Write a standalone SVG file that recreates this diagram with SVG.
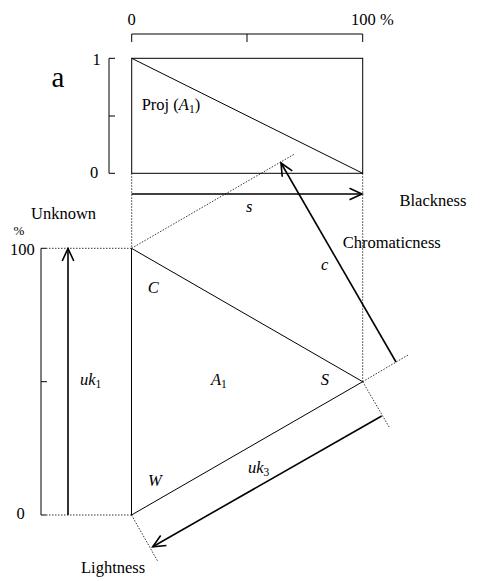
<svg xmlns="http://www.w3.org/2000/svg" width="495" height="581" viewBox="0 0 495 581" font-family="Liberation Serif, Times New Roman, serif" font-size="16.5">
<style>
text{font-family:'Liberation Serif','Times New Roman',serif;font-size:16.5px;fill:#000}
.i{font-style:italic}
.sub{font-size:11.5px;font-style:normal}
.thin{stroke:#000;stroke-width:1;fill:none}
.bold{stroke:#000;stroke-width:1.6;fill:none}
.dot{stroke:#000;stroke-width:0.8;stroke-dasharray:1.5 1.5;fill:none}
</style>
<defs>
<marker id="ah" markerUnits="userSpaceOnUse" markerWidth="16" markerHeight="14" refX="14" refY="7" orient="auto">
<path d="M1.5,1.2 L14,7 L1.5,12.8" fill="none" stroke="#000" stroke-width="1.6"/>
</marker>
</defs>
<rect width="495" height="581" fill="#fff"/>

<g id="scales">
<path class="thin" d="M131.7,42 V34 H362.7 V42 M247,34 V42"/>
<path class="thin" d="M115,58.3 H109 V173.3 H115 M109,116 H115"/>
<path class="thin" d="M46,248.3 H41 V515 H46 M41,381.7 H47"/>
<path class="dot" d="M46,248.3 H131.5 M46,515 H131.5"/>
<text x="127.5" y="25">0</text>
<text x="351" y="25">100 %</text>
<text x="92.5" y="65">1</text>
<text x="90" y="178.3">0</text>
<text x="10" y="255">100</text>
<text x="13.5" y="235" style="font-size:13px">%</text>
<text x="16.5" y="519.3">0</text>
</g>

<g id="label-a"><text x="51.5" y="87" style="font-size:29px">a</text></g>

<g id="proj">
<rect class="thin" x="131.7" y="58.3" width="231" height="115"/>
<path class="thin" d="M131.7,58.3 L362.7,173.3"/>
<text x="141.7" y="110">Proj (<tspan class="i">A</tspan><tspan class="sub" dy="3">1</tspan><tspan dy="-3">)</tspan></text>
</g>

<g id="triangle">
<path class="thin" d="M131.5,248.3 L131.5,515 L362.7,381.7 Z"/>
<text class="i" x="147.7" y="292.7">C</text>
<text class="i" x="148" y="486">W</text>
<text class="i" x="320.7" y="385">S</text>
<text class="i" x="211" y="385">A<tspan class="sub" dy="3">1</tspan></text>
</g>

<g id="guides">
<path class="dot" d="M131.7,173.3 V248.3 M362.7,173.3 V381.7"/>
<path class="dot" d="M131.5,248.3 L294,154.3"/>
<path class="dot" d="M362.7,381.7 L409,354.5 M362.7,381.7 L390,428.5"/>
<path class="dot" d="M131.5,515 L158,561.7"/>
</g>

<g id="connectors">
<line class="bold" x1="131.7" y1="194" x2="362" y2="194" marker-end="url(#ah)"/>
<line class="bold" x1="396" y1="362" x2="281" y2="163" marker-end="url(#ah)"/>
<line class="bold" x1="68" y1="515" x2="68" y2="248.5" marker-end="url(#ah)"/>
<line class="bold" x1="381.7" y1="416" x2="152.7" y2="546.7" marker-end="url(#ah)"/>
</g>

<g id="labels">
<text class="i" x="246" y="211.7">s</text>
<text class="i" x="321" y="270">c</text>
<text class="i" x="80" y="385">uk<tspan class="sub" dy="3">1</tspan></text>
<text class="i" x="248" y="473">uk<tspan class="sub" dy="3">3</tspan></text>
<text x="399.5" y="206">Blackness</text>
<text x="31" y="219">Unknown</text>
<text x="342.7" y="248.3">Chromaticness</text>
<text x="81" y="572.7">Lightness</text>
</g>
</svg>
